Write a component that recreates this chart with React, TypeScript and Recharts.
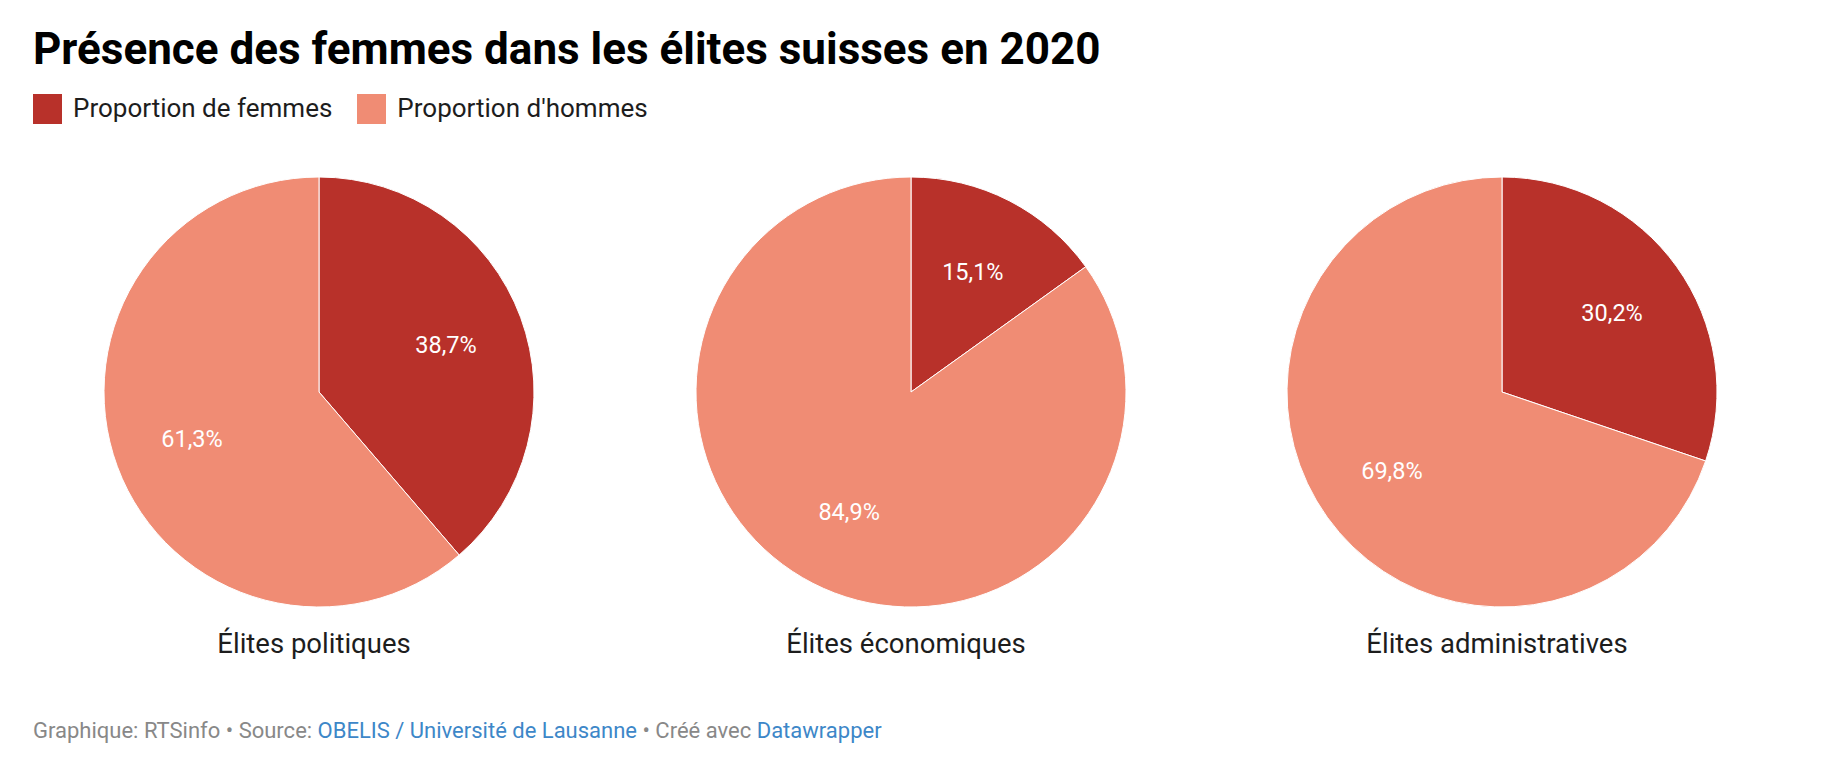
import React from "react";
import { PieChart, Pie, Cell } from "recharts";

const categories = ["Élites politiques", "Élites économiques", "Élites administratives"];
const seriesNames = ["Proportion de femmes", "Proportion d'hommes"];
const femmes = [38.7, 15.1, 30.2];
const hommes = [61.3, 84.9, 69.8];

const COLORS = ["#b8312a", "#f08c74"];
const CENTERS = [314, 906, 1497];
const RADIUS = 215;
const RAD = Math.PI / 180;

const fmt = (v: number) => v.toFixed(1).replace(".", ",") + "%";

// eslint-disable-next-line @typescript-eslint/no-explicit-any
function renderLabel({ cx, cy, midAngle, outerRadius, value }: any) {
  const r = outerRadius * 0.63;
  const x = cx + r * Math.cos(-midAngle * RAD);
  const y = cy + r * Math.sin(-midAngle * RAD);
  return (
    <text
      x={x}
      y={y}
      fill="#fff"
      textAnchor="middle"
      dominantBaseline="central"
      fontSize={23.5}
      fontFamily="Roboto"
    >
      {fmt(value)}
    </text>
  );
}

export default function App() {
  const pies = categories.map((name, i) => [
    { name: seriesNames[0], value: femmes[i] },
    { name: seriesNames[1], value: hommes[i] },
  ]);

  return (
    <div
      style={{
        position: "absolute",
        left: 0,
        top: 0,
        width: 1823,
        height: 767,
        background: "#fff",
        fontFamily: "Roboto, sans-serif",
      }}
    >
      <div
        style={{
          position: "absolute",
          left: 33,
          top: 21,
          fontSize: 44,
          fontWeight: 700,
          color: "#000",
          lineHeight: "56px",
          whiteSpace: "nowrap",
        }}
      >
        Présence des femmes dans les élites suisses en 2020
      </div>

      <div style={{ position: "absolute", left: 33, top: 93, display: "flex", alignItems: "center" }}>
        {seriesNames.map((s, i) => (
          <div key={s} style={{ display: "flex", alignItems: "center", marginRight: 25 }}>
            <div style={{ width: 29, height: 30, background: COLORS[i], marginRight: 11 }} />
            <span style={{ fontSize: 26, color: "#1d1d1d", lineHeight: "31px" }}>{s}</span>
          </div>
        ))}
      </div>

      <div style={{ position: "absolute", left: 0, top: 150 }}>
        <PieChart width={1823} height={480}>
          {pies.map((data, i) => (
            <Pie
              key={categories[i]}
              data={data}
              dataKey="value"
              nameKey="name"
              cx={CENTERS[i]}
              cy={237}
              outerRadius={RADIUS}
              startAngle={90}
              endAngle={-270}
              stroke="#fff"
              strokeWidth={1}
              label={renderLabel}
              labelLine={false}
              isAnimationActive={false}
            >
              {data.map((d, j) => (
                <Cell key={d.name} fill={COLORS[j]} />
              ))}
            </Pie>
          ))}
        </PieChart>
      </div>

      {categories.map((c, i) => (
        <div
          key={c}
          style={{
            position: "absolute",
            left: CENTERS[i] - 200,
            width: 400,
            top: 627,
            textAlign: "center",
            fontSize: 27.5,
            color: "#1d1d1d",
            lineHeight: "34px",
          }}
        >
          {c}
        </div>
      ))}

      <div
        style={{
          position: "absolute",
          left: 33,
          top: 717,
          fontSize: 22,
          color: "#888",
          lineHeight: "28px",
          whiteSpace: "nowrap",
        }}
      >
        Graphique: RTSinfo • Source: <span style={{ color: "#3d87c8" }}>OBELIS / Université de Lausanne</span> • Créé
        avec <span style={{ color: "#3d87c8" }}>Datawrapper</span>
      </div>
    </div>
  );
}
